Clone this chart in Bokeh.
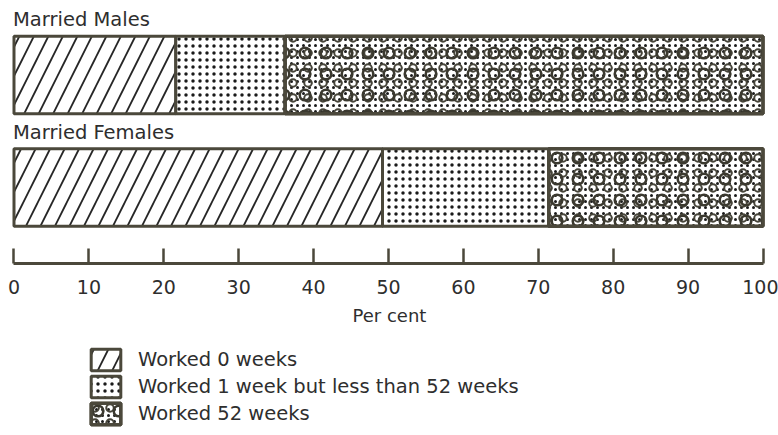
import numpy as np
from bokeh.plotting import figure
from bokeh.layouts import column
from bokeh.models import Range1d, FixedTicker, Legend, LegendItem
from bokeh.core.properties import value
from bokeh.embed import file_html
from bokeh.resources import INLINE

# ---- data ----
groups = ["Married Males", "Married Females"]
worked_0 = [21.6, 49.2]
worked_part = [14.6, 22.2]
worked_52 = [63.8, 28.6]
tick_values = [0, 10, 20, 30, 40, 50, 60, 70, 80, 90, 100]
legend_labels = ["Worked 0 weeks",
                 "Worked 1 week but less than 52 weeks",
                 "Worked 52 weeks"]

# ---- derived ----
w0 = np.array(worked_0)
w1 = np.array(worked_part)
w2 = np.array(worked_52)
ypos = np.array([1.0, 0.0])
left0 = np.zeros(2)
right0 = w0
right1 = w0 + w1
right2 = w0 + w1 + w2

BORDER = "#4b483b"
TEXT = "#2e2e2e"
FONT = "DejaVu Sans"
BAR_H = 0.69

S0 = dict(fill_color="white", line_color=BORDER, line_width=3,
          hatch_pattern="/", hatch_color="#262626", hatch_scale=29, hatch_weight=1.8)
S1 = dict(fill_color="white", line_color=BORDER, line_width=3,
          hatch_pattern="dot", hatch_color="#1a1a1a", hatch_scale=7, hatch_weight=2.4)
S2a = dict(fill_color="white", line_color=BORDER, line_width=3,
           hatch_pattern="dot", hatch_color="#1a1a1a", hatch_scale=6, hatch_weight=2.4)
S2b = dict(fill_color=None, line_color=BORDER, line_width=3,
           hatch_pattern="ring", hatch_color="#3b392f", hatch_scale=21, hatch_weight=2.6)
S2c = dict(fill_color=None, line_color=BORDER, line_width=3,
           hatch_pattern="ring", hatch_color="#47453a", hatch_scale=15, hatch_weight=2.0)

x_range = Range1d(-0.734, 101.0)

p = figure(frame_width=762, frame_height=255,
           x_range=x_range, y_range=Range1d(-0.676, 1.591),
           output_backend="svg", toolbar_location=None,
           min_border_left=8, min_border_right=8,
           min_border_top=8, min_border_bottom=0,
           y_axis_location=None)
p.xgrid.visible = False
p.ygrid.visible = False
p.outline_line_color = None

p.hbar(y=ypos, left=left0, right=right0, height=BAR_H, **S0)
p.hbar(y=ypos, left=right0, right=right1, height=BAR_H, **S1)
p.hbar(y=ypos, left=right1, right=right2, height=BAR_H, **S2a)
p.hbar(y=ypos, left=right1, right=right2, height=BAR_H, **S2c)
p.hbar(y=ypos, left=right1, right=right2, height=BAR_H, **S2b)

p.text(x=[0, 0], y=ypos + 0.49, text=groups, text_font=value(FONT),
       text_font_size="19.5px", text_baseline="middle", text_align="left",
       text_color=TEXT, x_offset=-1)

ax = p.xaxis[0]
ax.ticker = FixedTicker(ticks=tick_values)
ax.bounds = (0, 100)
ax.major_tick_in = 15
ax.major_tick_out = 0
ax.minor_tick_line_color = None
ax.axis_line_width = 3
ax.axis_line_color = BORDER
ax.major_tick_line_width = 2.5
ax.major_tick_line_color = BORDER
ax.major_label_text_font = FONT
ax.major_label_text_font_size = "19px"
ax.major_label_text_color = TEXT
ax.major_label_standoff = 16
ax.axis_label = "Per cent"
ax.axis_label_text_font = FONT
ax.axis_label_text_font_style = "normal"
ax.axis_label_text_font_size = "18px"
ax.axis_label_text_color = TEXT
ax.axis_label_standoff = 8

# ---- legend panel ----
p2 = figure(frame_width=762, frame_height=100,
            x_range=x_range, y_range=Range1d(0, 1),
            output_backend="svg", toolbar_location=None,
            min_border_left=8, min_border_right=8,
            min_border_top=0, min_border_bottom=0,
            x_axis_location=None, y_axis_location=None)
p2.xgrid.visible = False
p2.ygrid.visible = False
p2.outline_line_color = None

nan = float("nan")
blank = dict(y=[nan], left=[nan], right=[nan], height=BAR_H)
l0 = p2.hbar(**blank, **S0)
l1 = p2.hbar(**blank, **S1)
l2a = p2.hbar(**blank, **S2a)
l2c = p2.hbar(**blank, **S2c)
l2b = p2.hbar(**blank, **S2b)

legend = Legend(items=[LegendItem(label=legend_labels[0], renderers=[l0]),
                       LegendItem(label=legend_labels[1], renderers=[l1]),
                       LegendItem(label=legend_labels[2], renderers=[l2a, l2c, l2b])],
                location=(79, 1), orientation="vertical",
                glyph_width=37, glyph_height=27, label_height=27,
                label_standoff=14, spacing=0, padding=0, margin=0,
                border_line_color=None, background_fill_alpha=0,
                label_text_font=FONT, label_text_font_size="19.5px",
                label_text_color=TEXT)
p2.add_layout(legend, "center")

layout = column(p, p2, spacing=0)
open("out.html", "w").write(file_html(layout, INLINE))
